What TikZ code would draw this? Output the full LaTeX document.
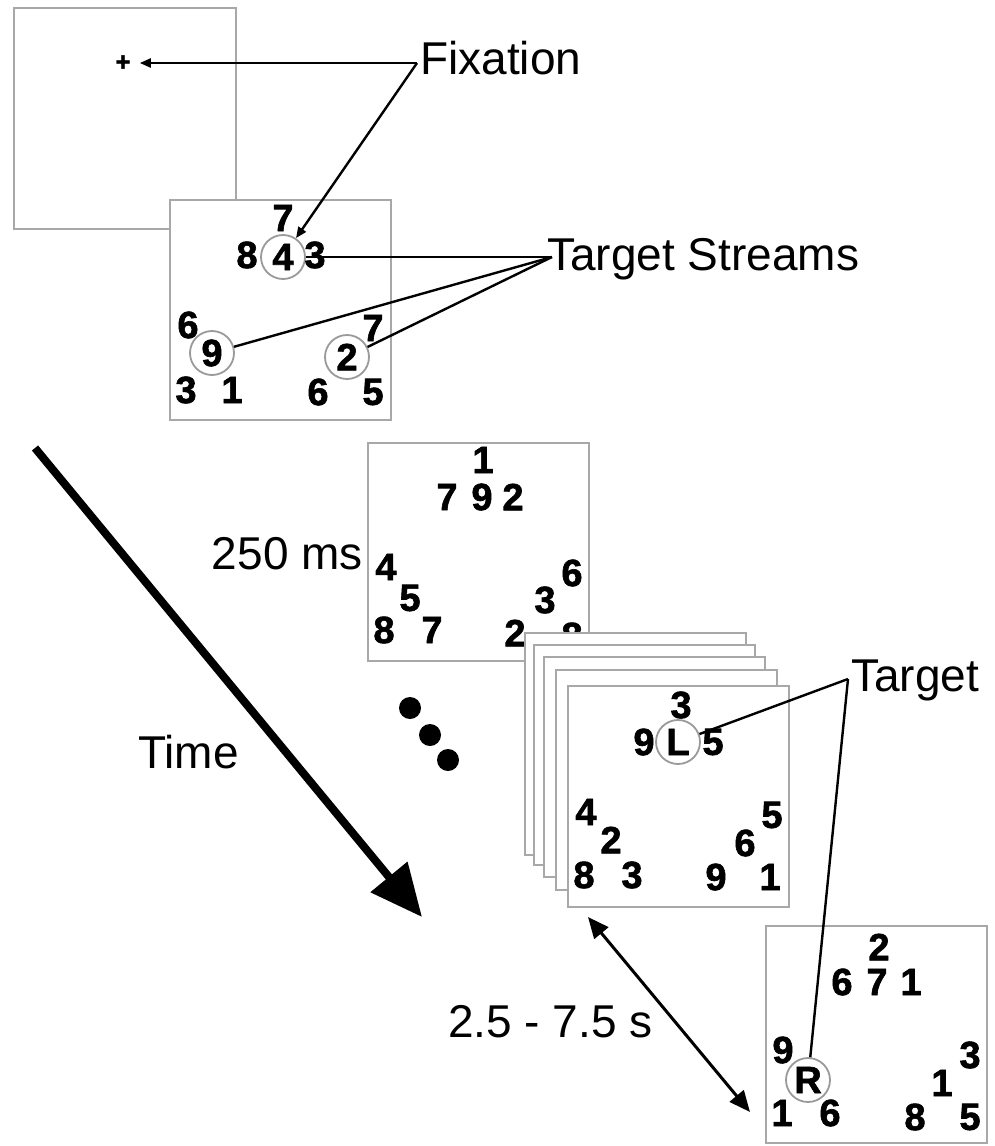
\documentclass[tikz,border=0pt]{standalone}
\usepackage{fontspec}
\setmainfont{Liberation Sans}
\newfontfamily\digitfont{Liberation Sans Bold}[FakeBold=1.6]
\usetikzlibrary{arrows.meta}
\definecolor{framegray}{HTML}{A8A8A8}
\definecolor{circgray}{HTML}{9A9A9A}
\begin{document}
\begin{tikzpicture}[x=1pt,y=-1pt,
  frame/.style={draw=framegray, line width=2pt, fill=white, minimum width=221pt, minimum height=220pt, inner sep=0pt, outer sep=0pt},
  dg/.style={font=\fontsize{38}{38}\digitfont, inner sep=0pt},
  cd/.style={dg, circle, draw=circgray, line width=1.8pt, minimum size=44pt},
  lbl/.style={font=\fontsize{46}{50}\selectfont, inner sep=0pt},
  conn/.style={line width=2.4pt, line join=miter},
  thinarr/.style={conn, -{Triangle[length=11pt,width=9pt]}},
  dot/.style={circle, fill=black, minimum size=22pt, inner sep=0pt}]
\useasboundingbox (0,0) rectangle (994,1146);

% --- time arrow
\coordinate (tA) at (35,448);
\coordinate (tB) at (422,917);
\draw[line width=8pt, -{Triangle[length=52pt,width=46pt]}] (tA) -- (tB);
\node[lbl, anchor=base west] (time) at (138,768) {Time};

% --- frame 1 (fixation)
\node[frame, minimum width=222pt, minimum height=221pt] (f1) at (125,118.5) {};
\node[font=\fontsize{26}{26}\digitfont, inner sep=0pt] (cross) at (123,63) {+};

% --- frame 2
\node[frame] (f2) at (280.5,310) {};
\node[dg] (f2a) at (283,218) {7};
\node[dg] (f2b) at (247,255) {8};
\node[cd] (c4) at (283,257) {4};
\node[dg] (f2c) at (315,255) {3};
\node[dg] (f2d) at (188,325) {6};
\node[cd] (c9) at (212,353) {9};
\node[dg] (f2e) at (186,390) {3};
\node[dg] (f2f) at (232,390) {1};
\node[dg] (f2g) at (373,328) {7};
\node[cd] (c2) at (347,357) {2};
\node[dg] (f2h) at (318,392) {6};
\node[dg] (f2i) at (373,392) {5};

% --- frame 3
\node[frame, minimum height=218pt] (f3) at (478.5,552) {};
\node[dg] (f3a) at (483,460) {1};
\node[dg] (f3b) at (447,497) {7};
\node[dg] (f3c) at (482,497) {9};
\node[dg] (f3d) at (513,497) {2};
\node[dg] (f3e) at (386,567) {4};
\node[dg] (f3f) at (410,598) {5};
\node[dg] (f3g) at (384,630) {8};
\node[dg] (f3h) at (432,630) {7};
\node[dg] (f3i) at (572,573) {6};
\node[dg] (f3j) at (545,600) {3};
\node[dg] (f3k) at (515,633) {2};
\node[dg] (f3l) at (572,636) {8};
\node[lbl, anchor=base east] (ms) at (363,569) {250 ms};

% --- dots
\node[dot] (d1) at (410,708) {};
\node[dot] (d2) at (430,735) {};
\node[dot] (d3) at (448,760) {};

% --- stack of frames
\node[frame, minimum height=222pt] (sa) at (635.5,744) {};
\node[frame] (sb) at (644,755) {};
\node[frame] (sc) at (654.5,766.5) {};
\node[frame] (sd) at (666.5,780) {};
\node[frame, minimum height=221pt] (se) at (678,796.5) {};
\node[dg] (sea) at (681,705) {3};
\node[dg] (seb) at (644,742) {9};
\node[cd] (cL) at (678,742) {L};
\node[dg] (sec) at (713,742) {5};
\node[dg] (sed) at (586,812) {4};
\node[dg] (see) at (611,840) {2};
\node[dg] (sef) at (584,875) {8};
\node[dg] (seg) at (632,875) {3};
\node[dg] (seh) at (772,815) {5};
\node[dg] (sei) at (745,843) {6};
\node[dg] (sej) at (716,877) {9};
\node[dg] (sek) at (770,877) {1};

% --- last frame
\node[frame, minimum height=217pt] (f6) at (876.5,1034.5) {};
\node[dg] (f6a) at (879,947) {2};
\node[dg] (f6b) at (842,982) {6};
\node[dg] (f6c) at (877,982) {7};
\node[dg] (f6d) at (911,982) {1};
\node[dg] (f6e) at (783,1050) {9};
\node[cd] (cR) at (808,1080) {R};
\node[dg] (f6f) at (782,1113) {1};
\node[dg] (f6g) at (830,1113) {6};
\node[dg] (f6h) at (970,1055) {3};
\node[dg] (f6i) at (942,1083) {1};
\node[dg] (f6j) at (915,1117) {8};
\node[dg] (f6k) at (970,1117) {5};

% --- labels
\node[lbl, anchor=base west] (fix) at (420,74) {Fixation};
\node[lbl, anchor=base west] (ts) at (547,270) {Target Streams};
\node[lbl, anchor=base west] (tg) at (851,691) {Target};
\node[lbl, anchor=base west] (dur) at (448,1037) {2.5 - 7.5 s};

% --- connectors
\coordinate (fixj) at (417,63);
\coordinate (tsj) at (552,257);
\coordinate (tgj) at (848,679);
\draw[thinarr, shorten >=9pt] (fixj) -- (cross.east);
\draw[thinarr] (fixj) -- (c4);
\draw[conn] (tsj) -- (c4);
\draw[conn] (tsj) -- (c9);
\draw[conn] (tsj) -- (c2);
\draw[conn] (tgj) -- (cL);
\draw[conn] (tgj) -- (cR);

% --- duration arrow
\coordinate (dA) at (588,917);
\coordinate (dB) at (750,1112);
\draw[line width=3pt, {Triangle[length=21pt,width=18pt]}-{Triangle[length=21pt,width=18pt]}] (dA) -- (dB);
\end{tikzpicture}
\end{document}
